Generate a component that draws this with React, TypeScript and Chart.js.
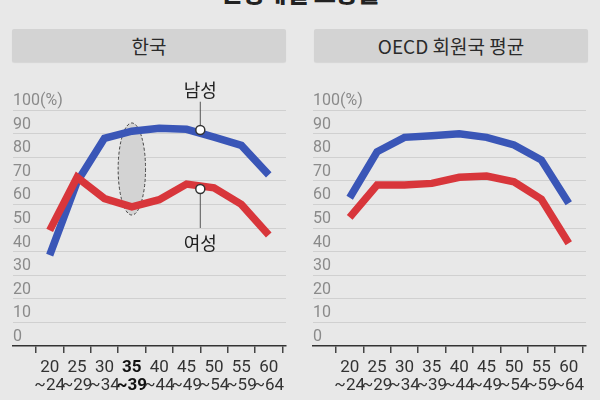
import React, { useEffect, useRef } from "react";
import { Chart, registerables } from "chart.js";

Chart.register(...registerables);

// ---- data ----
const ageStart = ["20", "25", "30", "35", "40", "45", "50", "55", "60"];
const ageEnd = ["~24", "~29", "~34", "~39", "~44", "~49", "~54", "~59", "~64"];
const yTickValues = [0, 10, 20, 30, 40, 50, 60, 70, 80, 90, 100];

const menKorea = [38.5, 69.5, 88, 91, 92.3, 91.8, 88.5, 85, 72.5];
const womenKorea = [49, 71.5, 62.5, 59, 62, 68.6, 67, 60, 47];
const menOECD = [62.8, 82.3, 88.4, 89.1, 89.9, 88.4, 85.2, 78.8, 60.5];
const womenOECD = [54.5, 68.2, 68.2, 68.9, 71.5, 72, 69.6, 62.2, 43.5];

const highlightIndex = 3; // 35~39
const highlightTop = 94.5;
const highlightBottom = 55.5;
const calloutIndex = 5.5;
const menMarker = 91.5;
const womenMarker = 66.5;
const menLabelValue = 108.5;
const menLeaderEnd = 103.5;
const womenLabelValue = 43.5;
const womenLeaderEnd = 50;

const pageTitle = "연령대별 고용률";
const panelTitles = ["한국", "OECD 회원국 평균"];
const menLabel = "남성";
const womenLabel = "여성";

const BLUE = "#3a56b7";
const RED = "#d8363b";
const BG = "#e8e8e8";
const NARROW = "'Liberation Sans Narrow', 'Arial Narrow', 'Roboto', sans-serif";
const KR = "'Noto Sans CJK KR', 'Noto Sans', sans-serif";

const calloutPlugin = {
  id: "krCallout",
  beforeDatasetsDraw(chart: any) {
    const { ctx, scales } = chart;
    const x = scales.x.getPixelForValue(highlightIndex);
    const rx = (scales.x.getPixelForValue(1) - scales.x.getPixelForValue(0)) / 2;
    const yTop = scales.y.getPixelForValue(highlightTop);
    const yBot = scales.y.getPixelForValue(highlightBottom);
    ctx.save();
    ctx.beginPath();
    ctx.ellipse(x, (yTop + yBot) / 2, rx, (yBot - yTop) / 2, 0, 0, Math.PI * 2);
    ctx.fillStyle = "#d3d3d3";
    ctx.fill();
    ctx.setLineDash([3, 2]);
    ctx.lineWidth = 1;
    ctx.strokeStyle = "#444";
    ctx.stroke();
    ctx.restore();
  },
  afterDatasetsDraw(chart: any) {
    const { ctx, scales } = chart;
    const x = scales.x.getPixelForValue(calloutIndex);
    const yM = scales.y.getPixelForValue(menMarker);
    const yW = scales.y.getPixelForValue(womenMarker);
    ctx.save();
    ctx.strokeStyle = "#555";
    ctx.lineWidth = 1;
    ctx.beginPath();
    ctx.moveTo(x, scales.y.getPixelForValue(menLeaderEnd));
    ctx.lineTo(x, yM);
    ctx.moveTo(x, yW);
    ctx.lineTo(x, scales.y.getPixelForValue(womenLeaderEnd));
    ctx.stroke();
    for (const y of [yM, yW]) {
      ctx.beginPath();
      ctx.arc(x, y, 4.5, 0, Math.PI * 2);
      ctx.fillStyle = "#fff";
      ctx.fill();
      ctx.lineWidth = 1.5;
      ctx.strokeStyle = "#333";
      ctx.stroke();
    }
    ctx.fillStyle = "#222";
    ctx.font = `18px ${KR}`;
    ctx.textAlign = "center";
    ctx.textBaseline = "middle";
    ctx.fillText(menLabel, x, scales.y.getPixelForValue(menLabelValue));
    ctx.fillText(womenLabel, x, scales.y.getPixelForValue(womenLabelValue));
    ctx.restore();
  },
};

function Panel({ men, women, left, boldIndex, annotate }: any) {
  const ref = useRef<HTMLCanvasElement>(null);
  useEffect(() => {
    const chart = new Chart(ref.current as HTMLCanvasElement, {
      type: "line",
      data: {
        datasets: [
          {
            data: women.map((y: number, x: number) => ({ x, y })),
            borderColor: RED,
            borderWidth: 7.5,
            pointRadius: 0,
            borderJoinStyle: "miter",
            borderCapStyle: "butt",
            tension: 0,
          },
          {
            data: men.map((y: number, x: number) => ({ x, y })),
            borderColor: BLUE,
            borderWidth: 7.5,
            pointRadius: 0,
            borderJoinStyle: "miter",
            borderCapStyle: "butt",
            tension: 0,
          },
        ],
      },
      options: {
        animation: false,
        responsive: false,
        events: [],
        layout: { padding: { left: 13, right: 14, top: 48, bottom: 0 } },
        plugins: { legend: { display: false }, tooltip: { enabled: false } },
        scales: {
          x: {
            type: "linear",
            min: -1.34,
            max: 8.63,
            afterBuildTicks: (s: any) => {
              s.ticks = ageStart.map((_, i) => ({ value: i }));
            },
            afterFit: (s: any) => {
              s.height = 54;
            },
            grid: {
              display: true,
              drawOnChartArea: false,
              offset: true,
              tickLength: 7,
              color: "#444",
              lineWidth: 1.5,
            },
            border: { display: true, color: "#333", width: 1.5 },
            ticks: {
              autoSkip: false,
              maxRotation: 0,
              padding: 6,
              color: (c: any) => (c.index === boldIndex ? "#111" : "#333"),
              font: (c: any) => ({
                family: NARROW,
                size: 17,
                lineHeight: 1.05,
                weight: c.index === boldIndex ? "bold" : "normal",
              }),
              callback: (_v: any, i: number) => [ageStart[i], ageEnd[i]],
            },
          },
          y: {
            min: 0,
            max: 100,
            afterBuildTicks: (s: any) => {
              s.ticks = yTickValues.map((v) => ({ value: v }));
            },
            afterFit: (s: any) => {
              s.width = 0;
            },
            grid: {
              color: (c: any) => (c.tick && c.tick.value === 0 ? "rgba(0,0,0,0)" : "#d0d0d0"),
              drawTicks: false,
              lineWidth: 1,
            },
            border: { display: false },
            ticks: {
              mirror: true,
              padding: 0,
              labelOffset: -9,
              color: "#8a8a8a",
              font: { family: NARROW, size: 16 },
              callback: (v: any) => (v === 100 ? "100(%)" : String(v)),
            },
          },
        },
      } as any,
      plugins: annotate ? [calloutPlugin] : [],
    });
    return () => chart.destroy();
  }, []);
  return (
    <canvas
      ref={ref}
      width={300}
      height={338}
      style={{ position: "absolute", left, top: 62, width: 300, height: 338 }}
    />
  );
}

const headerStyle = (left: number): React.CSSProperties => ({
  position: "absolute",
  left,
  top: 29,
  width: 274,
  height: 33,
  background: "#d3d3d3",
  borderRadius: 2,
  boxShadow: "0 1px 1px rgba(0,0,0,0.08)",
  color: "#2a2a2a",
  fontFamily: KR,
  fontSize: 19,
  lineHeight: "33px",
  textAlign: "center",
});

export default function App() {
  useEffect(() => {
    document.body.style.margin = "0";
    document.body.style.background = BG;
  }, []);
  return (
    <div
      style={{
        position: "fixed",
        left: 0,
        top: 0,
        width: 600,
        height: 400,
        background: BG,
        overflow: "hidden",
      }}
    >
      <div
        style={{
          position: "absolute",
          left: 0,
          width: 600,
          top: -20,
          height: 24,
          lineHeight: "24px",
          textAlign: "center",
          fontFamily: KR,
          fontWeight: 900,
          fontSize: 24,
          color: "#222",
        }}
      >
        {pageTitle}
      </div>
      <div style={headerStyle(12)}>{panelTitles[0]}</div>
      <div style={headerStyle(314)}>{panelTitles[1]}</div>
      <Panel men={menKorea} women={womenKorea} left={0} boldIndex={highlightIndex} annotate />
      <Panel men={menOECD} women={womenOECD} left={300} boldIndex={-1} annotate={false} />
    </div>
  );
}
